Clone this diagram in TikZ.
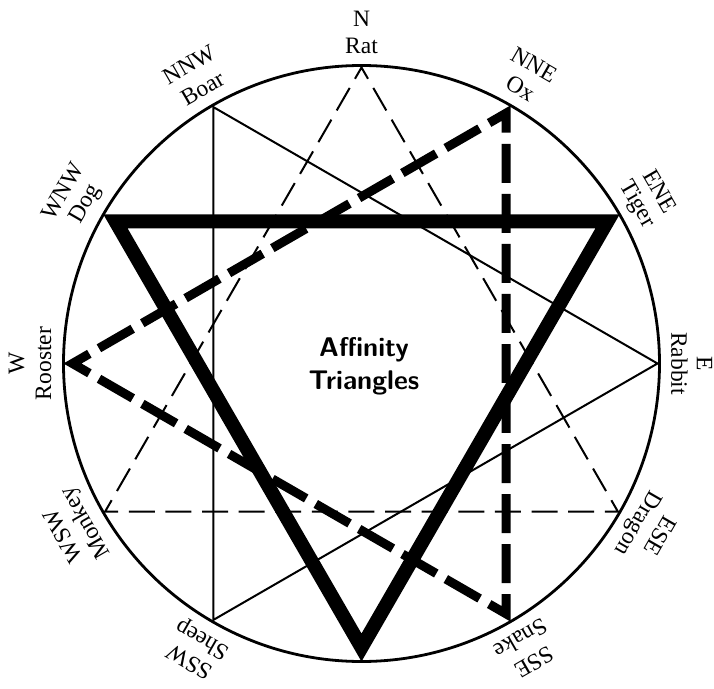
\documentclass[tikz,border=0pt]{standalone}
\usepackage{fontspec}
\setmainfont{Liberation Serif}
\usetikzlibrary{calc}
\begin{document}
\begin{tikzpicture}[x=1pt,y=1pt,
  lbl/.style={font=\fontsize{23.5}{26}\selectfont, inner sep=0pt},
  ring/.style={line width=2.8pt},
  thinsolid/.style={line width=2pt, line join=miter},
  thindash/.style={line width=2pt, line join=miter, dash pattern=on 26pt off 10.62pt, dash phase=13pt},
  thickdash/.style={line width=9pt, line join=miter, dash pattern=on 39pt off 11.06pt, dash phase=19.5pt},
  thicksolid/.style={line width=14pt, line join=miter},
  title/.style={font=\fontsize{27}{33}\selectfont\bfseries\sffamily, align=center, inner sep=0pt}]
\useasboundingbox (-361.5,-324.5) rectangle (352.5,363.5);
\coordinate (c) at (0,0);
% outer ring
\draw[ring] (c) circle (298);
% thin solid triangle: Boar - Rabbit - Sheep
\coordinate (boar) at (120:296);
\coordinate (rabbit) at (0:296);
\coordinate (sheep) at (240:296);
\draw[thinsolid] (boar) -- (rabbit) -- (sheep) -- cycle;
% thin dashed triangle: Rat - Monkey - Dragon
\coordinate (rat) at (90:296);
\coordinate (monkey) at (210:296);
\coordinate (dragon) at (330:296);
\coordinate (mrd) at ($(dragon)!0.5!(rat)$);
\draw[thindash] (mrd) -- (rat) -- (monkey) -- (dragon) -- (mrd);
% thick dashed triangle: Ox - Rooster - Snake
\coordinate (ox) at (60:289);
\coordinate (rooster) at (180:289);
\coordinate (snake) at (300:289);
\coordinate (mso) at ($(snake)!0.5!(ox)$);
\draw[thickdash] (mso) -- (ox) -- (rooster) -- (snake) -- (mso);
% thick solid triangle: Tiger - Dog - Horse
\coordinate (tiger) at (30:284);
\coordinate (dog) at (150:284);
\coordinate (horse) at (270:284);
\draw[thicksolid] (tiger) -- (dog) -- (horse) -- cycle;
% labels
\node[lbl, rotate=0]    (lrat)     at (90:318)  {Rat};
\node[lbl, rotate=0]    (drat)     at (90:345)  {N};
\node[lbl, rotate=-30]  (lox)      at (60:318)  {Ox};
\node[lbl, rotate=-30]  (dox)      at (60:345)  {NNE};
\node[lbl, rotate=-60]  (ltiger)   at (30:318)  {Tiger};
\node[lbl, rotate=-60]  (dtiger)   at (30:345)  {ENE};
\node[lbl, rotate=-90]  (lrabbit)  at (0:318)   {Rabbit};
\node[lbl, rotate=-90]  (drabbit)  at (0:343)   {E};
\node[lbl, rotate=-120] (ldragon)  at (-30:318) {Dragon};
\node[lbl, rotate=-120] (ddragon)  at (-30:345) {ESE};
\node[lbl, rotate=-150] (lsnake)   at (-60:318) {Snake};
\node[lbl, rotate=-150] (dsnake)   at (-60:345) {SSE};
\node[lbl, rotate=150]  (lsheep)   at (240:318) {Sheep};
\node[lbl, rotate=150]  (dsheep)   at (240:345) {SSW};
\node[lbl, rotate=120]  (lmonkey)  at (210:318) {Monkey};
\node[lbl, rotate=120]  (dmonkey)  at (210:345) {WSW};
\node[lbl, rotate=90]   (lrooster) at (180:318) {Rooster};
\node[lbl, rotate=90]   (drooster) at (180:345) {W};
\node[lbl, rotate=60]   (ldog)     at (150:318) {Dog};
\node[lbl, rotate=60]   (ddog)     at (150:345) {WNW};
\node[lbl, rotate=30]   (lboar)    at (120:318) {Boar};
\node[lbl, rotate=30]   (dboar)    at (120:345) {NNW};
% centre title
\node[title] (ttl) at (2.5,-3) {Affinity\\Triangles};
\end{tikzpicture}
\end{document}
